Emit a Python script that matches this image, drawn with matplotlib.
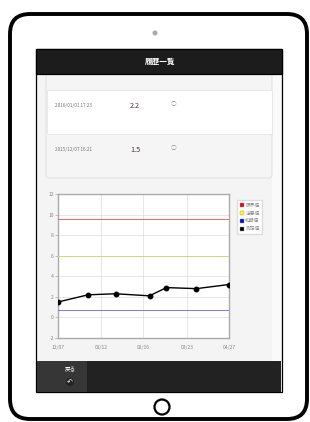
"""Tablet mock-up of a history screen with a measurement chart."""

import matplotlib
matplotlib.use('Agg')
import matplotlib.pyplot as plt
import matplotlib.dates as mdates
from matplotlib.patches import FancyBboxPatch, Rectangle, Circle
from matplotlib.lines import Line2D
import pandas as pd

plt.rcParams['font.family'] = ['Noto Sans CJK JP', 'DejaVu Sans']
plt.rcParams['axes.unicode_minus'] = False

# history list rows
row_dates = ['2016/01/01 17:23', '2015/12/07 16:21']
row_values = ['2.2', '1.5']
row_marks = ['○', '○']

# chart data
meas_dates = ['2015-12-07', '2016-01-01', '2016-01-24', '2016-02-21',
              '2016-03-06', '2016-03-31', '2016-04-27']
meas_values = [1.5, 2.2, 2.3, 2.1, 2.9, 2.8, 3.2]
limit_value = 9.6
caution_value = 6.0
initial_value = 0.7
tick_dates = ['2015-12-07', '2016-01-12', '2016-02-16', '2016-03-23', '2016-04-27']
y_ticks = [-2, 0, 2, 4, 6, 8, 10, 12]
legend_labels = ['限界値', '注意値', '初期値', '測定値']
legend_colors = ['#ff0000', '#ffff00', '#0000ff', '#000000']

W, H = 310, 422
fig = plt.figure(figsize=(W / 100, H / 100), dpi=100)
fig.patch.set_facecolor('white')

# background axes in pixel coordinates
bg = fig.add_axes([0, 0, 1, 1])
bg.set_xlim(0, W)
bg.set_ylim(H, 0)
bg.axis('off')

# tablet body
bg.add_patch(FancyBboxPatch((10, 14), 297, 405, boxstyle='round,pad=0,rounding_size=20',
                            facecolor='white', edgecolor='black', linewidth=2.8))
bg.add_patch(Circle((155, 33), 2.5, facecolor='#aaaaaa', edgecolor='none'))
bg.add_patch(Circle((162, 407), 7.5, facecolor='white', edgecolor='black', linewidth=1.6))

# screen
bg.add_patch(Rectangle((36, 49), 246, 343, facecolor='#f4f4f4', edgecolor='black', linewidth=0.9))
bg.add_patch(Rectangle((272, 74), 9, 287, facecolor='#fafafa', edgecolor='none'))

# card with rows
bg.add_patch(FancyBboxPatch((46, 60), 226, 118, boxstyle='round,pad=0,rounding_size=3',
                            facecolor='#f5f5f5', edgecolor='#dddddd', linewidth=0.6))
bg.add_patch(Rectangle((46.5, 90), 225, 44, facecolor='white', edgecolor='#e2e2e2', linewidth=0.5))

# header
bg.add_patch(Rectangle((36, 49), 246, 25, facecolor='#1c1c1c', edgecolor='black', linewidth=0.9))
bg.text(160, 61.5, '履歴一覧', color='white', fontsize=5.5, ha='center', va='center',
        fontweight='bold')

row_y = [105, 149]
for y, d, v, m in zip(row_y, row_dates, row_values, row_marks):
    bg.text(55, y, d, color='#777777', fontsize=3.4, ha='left', va='center')
    bg.text(130, y + 1, v, color='#4a3a44', fontsize=5.2, ha='left', va='center')
    bg.text(173, y - 1, m, color='#888888', fontsize=4, ha='center', va='center')

# bottom bar
bg.add_patch(Rectangle((37, 361), 244, 30.5, facecolor='#222222', edgecolor='none'))
bg.add_patch(Rectangle((37, 361), 50, 30.5, facecolor='#363636', edgecolor='none'))
bg.text(70, 369.5, '戻る', color='white', fontsize=4, ha='center', va='center')
bg.add_patch(Circle((70, 382), 4, facecolor='#222222', edgecolor='none'))
bg.text(70, 382, '↶', color='white', fontsize=5, ha='center', va='center',
        family=['DejaVu Sans'])

# chart
ax = fig.add_axes([58 / W, 1 - 338 / H, 171 / W, 144 / H])
ax.set_facecolor('white')
x = pd.to_datetime(meas_dates)
xt = pd.to_datetime(tick_dates)

ax.axhline(limit_value, color='#ff6060', linewidth=0.7, zorder=3)
ax.axhline(caution_value, color='#d8d870', linewidth=0.7, zorder=3)
ax.axhline(initial_value, color='#7777ff', linewidth=0.7, zorder=3)
ax.plot(x, meas_values, '-o', color='black', linewidth=1.0, markersize=3.2, zorder=4)

ax.set_xlim(xt[0], xt[-1])
ax.set_ylim(-2, 12)
ax.set_xticks(xt)
ax.xaxis.set_major_formatter(mdates.DateFormatter('%m/%d'))
ax.set_yticks(y_ticks)
ax.grid(True, color='#dddddd', linewidth=0.5)
ax.set_axisbelow(True)
ax.tick_params(axis='x', length=0, pad=5, labelsize=3.6, labelcolor='#888888')
ax.tick_params(axis='y', length=2, width=0.5, color='#aaaaaa', pad=1,
               labelsize=3.6, labelcolor='#888888')
for s in ax.spines.values():
    s.set_color('#aaaaaa')
    s.set_linewidth(1.0)

handles = [Line2D([], [], linestyle='none', marker='s', markersize=3.2,
                  markerfacecolor=c, markeredgecolor='#999999', markeredgewidth=0.3)
           for c in legend_colors]
fig.legend(handles, legend_labels, loc='upper left', bbox_to_anchor=(235 / W, 1 - 198 / H),
           fontsize=3.4, labelcolor='#888888', frameon=True, fancybox=False,
           edgecolor='#dddddd', framealpha=1, borderpad=0.5, handlelength=0.8,
           handletextpad=0.4, labelspacing=0.6)

fig.savefig('out.png', dpi=100)
